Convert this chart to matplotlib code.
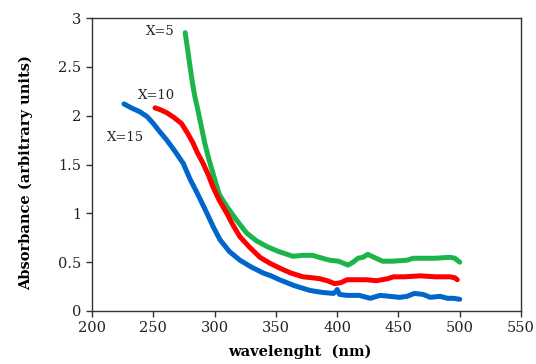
import matplotlib
matplotlib.use("Agg")
import matplotlib.pyplot as plt

x5 = [276, 278, 280, 282, 284, 286, 288, 290, 292, 295, 298, 301, 304, 310, 318, 326, 334, 342.7, 352, 364, 372, 380, 388, 394, 401, 409, 413, 417, 421, 425, 430, 437, 445, 457, 462, 470, 480, 492, 496, 500]
y5 = [2.85, 2.68, 2.50, 2.33, 2.19, 2.08, 1.96, 1.84, 1.72, 1.57, 1.44, 1.31, 1.19, 1.07, 0.93, 0.80, 0.72, 0.66, 0.61, 0.56, 0.57, 0.57, 0.54, 0.52, 0.51, 0.47, 0.50, 0.54, 0.55, 0.58, 0.55, 0.51, 0.51, 0.52, 0.54, 0.54, 0.54, 0.55, 0.54, 0.50]

x10 = [251.4, 256, 261, 267, 273, 278, 282.4, 286, 290.7, 295, 298.7, 304, 310, 315, 320.7, 328, 337, 345, 353, 362, 372, 380, 386, 392, 398, 403, 408, 416, 424, 432, 441, 446, 455, 468, 480, 492, 496, 498]
y10 = [2.08, 2.06, 2.03, 1.98, 1.92, 1.82, 1.72, 1.62, 1.51, 1.39, 1.27, 1.13, 1.00, 0.88, 0.76, 0.66, 0.55, 0.49, 0.44, 0.39, 0.35, 0.34, 0.33, 0.31, 0.28, 0.29, 0.32, 0.32, 0.32, 0.31, 0.33, 0.35, 0.35, 0.36, 0.35, 0.35, 0.34, 0.32]

x15 = [226.1, 232, 239, 245, 250, 255, 261, 268, 274.5, 280, 285.7, 290, 293.8, 299, 304.4, 312, 320.7, 330, 339.5, 346, 353, 365, 378, 388, 397, 399, 400, 402, 408, 418, 427, 435, 443, 451, 457, 463, 470, 476, 484, 490, 495, 500]
y15 = [2.12, 2.08, 2.04, 1.99, 1.92, 1.84, 1.75, 1.63, 1.51, 1.35, 1.21, 1.10, 1.00, 0.86, 0.73, 0.61, 0.52, 0.45, 0.39, 0.36, 0.32, 0.26, 0.21, 0.19, 0.18, 0.20, 0.22, 0.17, 0.16, 0.16, 0.13, 0.16, 0.15, 0.14, 0.15, 0.18, 0.17, 0.14, 0.15, 0.13, 0.13, 0.12]

series_labels = ["X=5", "X=10", "X=15"]
label_pos = [(255.5, 2.86), (253, 2.21), (227.7, 1.78)]
colors = ["#1DB54A", "#FF0000", "#0066CC"]

xticks = [200, 250, 300, 350, 400, 450, 500, 550]
yticks = [0, 0.5, 1, 1.5, 2, 2.5, 3]
ytick_labels = ["0", "0.5", "1", "1.5", "2", "2.5", "3"]

fig = plt.figure(figsize=(5.36, 3.64), dpi=100)
ax = fig.add_axes([92/536, 1 - 311/364, (521-92)/536, (311-18)/364])

for xs, ys, c in zip([x5, x10, x15], [y5, y10, y15], colors):
    ax.plot(xs, ys, color=c, lw=3.6, solid_capstyle="round", solid_joinstyle="round")

for lab, (lx, ly) in zip(series_labels, label_pos):
    ax.text(lx, ly, lab, ha="center", va="center", fontsize=9.5, family="DejaVu Serif", color="#222222")

ax.set_xlim(200, 550)
ax.set_ylim(0, 3)
ax.set_xticks(xticks)
ax.set_yticks(yticks)
ax.set_yticklabels(ytick_labels)
ax.tick_params(direction="out", length=4, width=1, labelsize=10.5, colors="#333333", labelcolor="#222222")
for lbl in ax.get_xticklabels() + ax.get_yticklabels():
    lbl.set_family("DejaVu Serif")
for s in ax.spines.values():
    s.set_color("#333333")
    s.set_linewidth(1)

ax.set_xlabel("wavelenght  (nm)", fontsize=10.5, fontweight="bold", family="DejaVu Serif", va="center")
ax.set_ylabel("Absorbance (arbitrary units)", fontsize=10.5, fontweight="bold", family="DejaVu Serif", va="center")
ax.xaxis.set_label_coords(0.485, -0.14)
ax.yaxis.set_label_coords(-0.154, 0.474)

fig.savefig("out.png", dpi=100)
